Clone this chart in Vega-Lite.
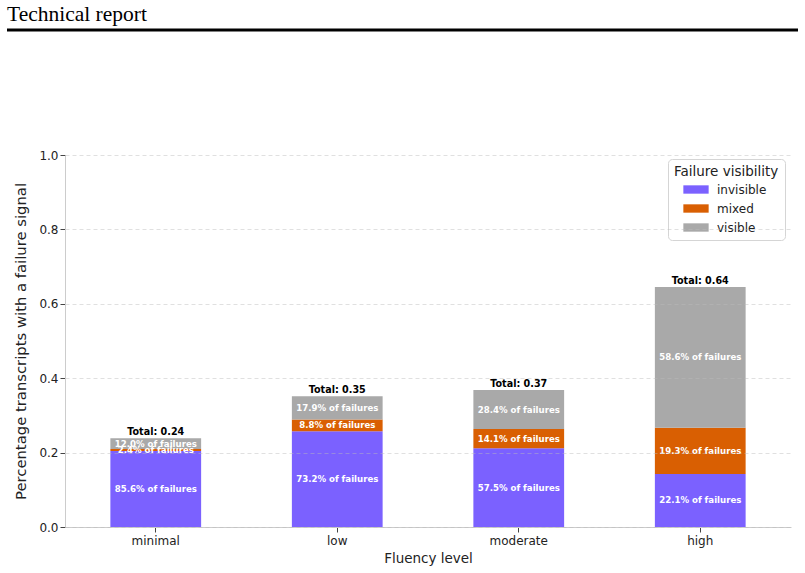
{
  "$schema": "https://vega.github.io/schema/vega-lite/v6.json",
  "background": "white",
  "padding": {"left": 5, "top": 4, "right": 5, "bottom": 5},
  "config": {
    "font": "DejaVu Sans",
    "view": {"stroke": null},
    "axis": {
      "labelFont": "DejaVu Sans",
      "titleFont": "DejaVu Sans",
      "labelFontSize": 12,
      "titleFontSize": 13.5,
      "titleFontWeight": "normal",
      "labelColor": "#222222",
      "titleColor": "#222222",
      "tickColor": "#444444",
      "tickSize": 5,
      "domainColor": "#cccccc"
    }
  },
  "datasets": {
    "segments": [
      {"level": "minimal", "visibility": "invisible", "value": 0.204, "label": "85.6% of failures"},
      {"level": "minimal", "visibility": "mixed", "value": 0.0057, "label": "2.4% of failures"},
      {"level": "minimal", "visibility": "visible", "value": 0.0286, "label": "12.0% of failures"},
      {"level": "low", "visibility": "invisible", "value": 0.2577, "label": "73.2% of failures"},
      {"level": "low", "visibility": "mixed", "value": 0.031, "label": "8.8% of failures"},
      {"level": "low", "visibility": "visible", "value": 0.063, "label": "17.9% of failures"},
      {"level": "moderate", "visibility": "invisible", "value": 0.2116, "label": "57.5% of failures"},
      {"level": "moderate", "visibility": "mixed", "value": 0.0519, "label": "14.1% of failures"},
      {"level": "moderate", "visibility": "visible", "value": 0.1045, "label": "28.4% of failures"},
      {"level": "high", "visibility": "invisible", "value": 0.1425, "label": "22.1% of failures"},
      {"level": "high", "visibility": "mixed", "value": 0.1245, "label": "19.3% of failures"},
      {"level": "high", "visibility": "visible", "value": 0.378, "label": "58.6% of failures"}
    ],
    "totals": [
      {"level": "minimal", "total": 0.2383, "label": "Total: 0.24"},
      {"level": "low", "total": 0.3517, "label": "Total: 0.35"},
      {"level": "moderate", "total": 0.368, "label": "Total: 0.37"},
      {"level": "high", "total": 0.645, "label": "Total: 0.64"}
    ]
  },
  "spacing": 117,
  "resolve": {"legend": {"color": "independent"}},
  "vconcat": [
    {
      "width": 791,
      "height": 1,
      "title": {"text": "Technical report", "anchor": "start", "font": "Liberation Serif", "fontSize": 21.5, "fontWeight": "normal", "color": "#000000", "offset": 3, "frame": "group"},
      "data": {"values": [{}]},
      "mark": {"type": "rule", "strokeWidth": 3, "color": "#000000"},
      "encoding": {"y": {"datum": 0, "type": "quantitative", "scale": {"domain": [0, 1]}, "axis": null}}
    },
    {
      "spacing": 5,
      "resolve": {"legend": {"color": "independent"}},
      "hconcat": [
        {
          "width": 1,
          "height": 1,
          "data": {"values": [{}]},
          "mark": {"type": "point", "opacity": 0, "size": 0},
          "encoding": {}
        },
        {
          "width": 726,
          "height": 372,
          "data": {"name": "segments"},
          "encoding": {
            "x": {"field": "level", "type": "nominal", "sort": ["minimal", "low", "moderate", "high"],
              "scale": {"paddingInner": 0.5, "paddingOuter": 0.25},
              "axis": {"title": "Fluency level", "labelAngle": 0, "labelPadding": 3, "titlePadding": 5, "grid": false}}
          },
          "layer": [
            {
              "mark": {"type": "bar"},
              "encoding": {
                "y": {"field": "value", "type": "quantitative", "stack": "zero",
                  "scale": {"domain": [0, 1], "nice": false},
                  "axis": {"title": "Percentage transcripts with a failure signal", "titleFontSize": 14.8, "values": [0, 0.2, 0.4, 0.6, 0.8, 1.0], "format": ".1f",
                    "grid": true, "gridColor": "#bbbbbb", "gridOpacity": 0.45, "gridDash": [4, 3], "labelPadding": 2, "titlePadding": 10, "zindex": 1}},
                "color": {"field": "visibility", "type": "nominal",
                  "scale": {"domain": ["invisible", "mixed", "visible"], "range": ["#7B61FF", "#D95F02", "#A9A9A9"]},
                  "legend": {"title": "Failure visibility", "orient": "none", "legendX": 603, "legendY": 4,
                    "titleFontSize": 13.5, "titleFontWeight": "normal", "titleColor": "#222222", "labelFontSize": 12, "labelColor": "#222222",
                    "symbolType": "M-1,-0.33H1V0.33H-1Z", "symbolSize": 640, "symbolStrokeWidth": 0, "symbolOffset": 9, "labelOffset": 8,
                    "rowPadding": -8, "padding": 6, "strokeColor": "#d5d5d5", "fillColor": "white", "cornerRadius": 4, "titlePadding": -2}},
                "order": {"field": "visibility", "sort": "ascending"}
              }
            },
            {
              "mark": {"type": "text", "color": "white", "fontWeight": "bold", "fontSize": 8.6},
              "encoding": {
                "y": {"field": "value", "type": "quantitative", "stack": "zero", "bandPosition": 0.5},
                "text": {"field": "label"},
                "order": {"field": "visibility", "sort": "ascending"}
              }
            },
            {
              "data": {"name": "totals"},
              "mark": {"type": "text", "color": "black", "fontWeight": "bold", "fontSize": 9.6, "baseline": "bottom", "dy": -1},
              "encoding": {
                "y": {"field": "total", "type": "quantitative"},
                "text": {"field": "label"}
              }
            }
          ]
        }
      ]
    }
  ]
}
